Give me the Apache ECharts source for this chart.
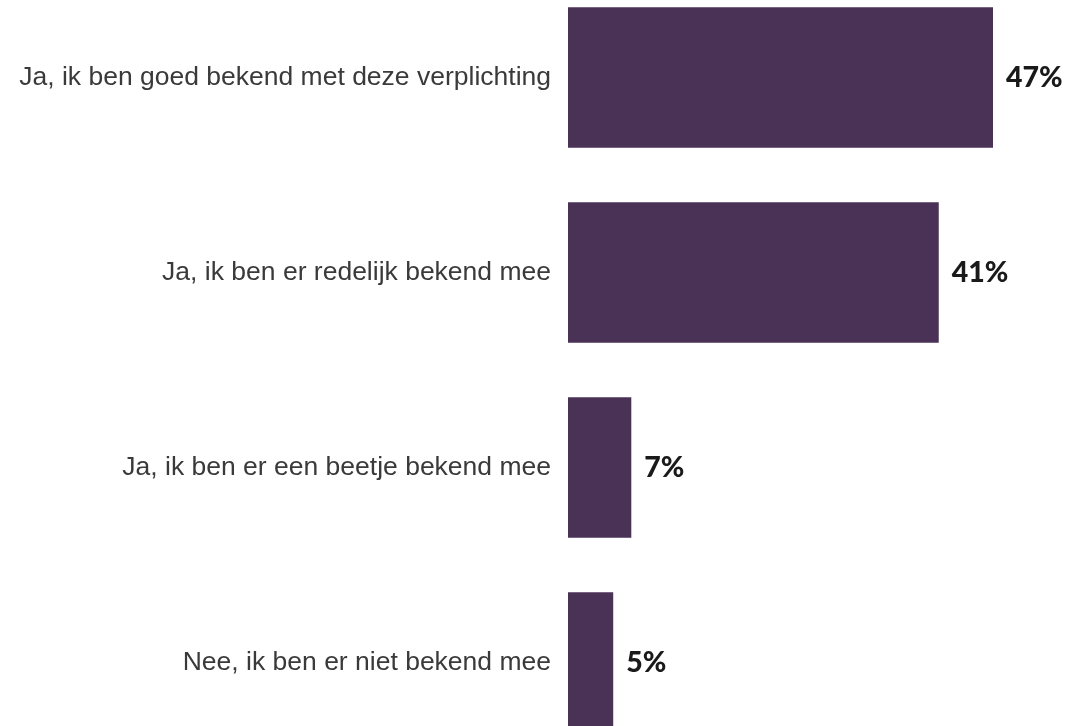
<!DOCTYPE html>
<html><head><meta charset="utf-8">
<script src="https://cdn.jsdelivr.net/npm/echarts@6/dist/echarts.min.js"></script>
<style>html,body{margin:0;padding:0;background:#fff}#c{width:1071px;height:726px}</style>
</head><body><div id="c"></div>
<script>
const categories = [
  "Ja, ik ben goed bekend met deze verplichting",
  "Ja, ik ben er redelijk bekend mee",
  "Ja, ik ben er een beetje bekend mee",
  "Nee, ik ben er niet bekend mee"
];
const values = [47, 41, 7, 5];

const chart = echarts.init(document.getElementById('c'), null, {renderer: 'canvas'});
chart.setOption({
  animation: false,
  grid: {left: 568, width: 425, top: -20, height: 780, containLabel: false, outerBoundsMode: 'none'},
  xAxis: {type: 'value', min: 0, max: 47, show: false},
  yAxis: {
    type: 'category', data: categories, inverse: true,
    axisLine: {show: false}, axisTick: {show: false}, splitLine: {show: false},
    axisLabel: {margin: 17, fontFamily: 'Liberation Sans, Arial, sans-serif', fontSize: 26.5, color: '#3a3a3a'}
  },
  series: [{
    type: 'bar', data: values, barCategoryGap: '28%',
    itemStyle: {color: '#4a3156'},
    label: {show: true, position: 'right', distance: 13, formatter: '{c}%',
      fontFamily: 'Lato, sans-serif', fontWeight: 900, fontSize: 28.5, color: '#1a1a1a'}
  }]
});
</script></body></html>
